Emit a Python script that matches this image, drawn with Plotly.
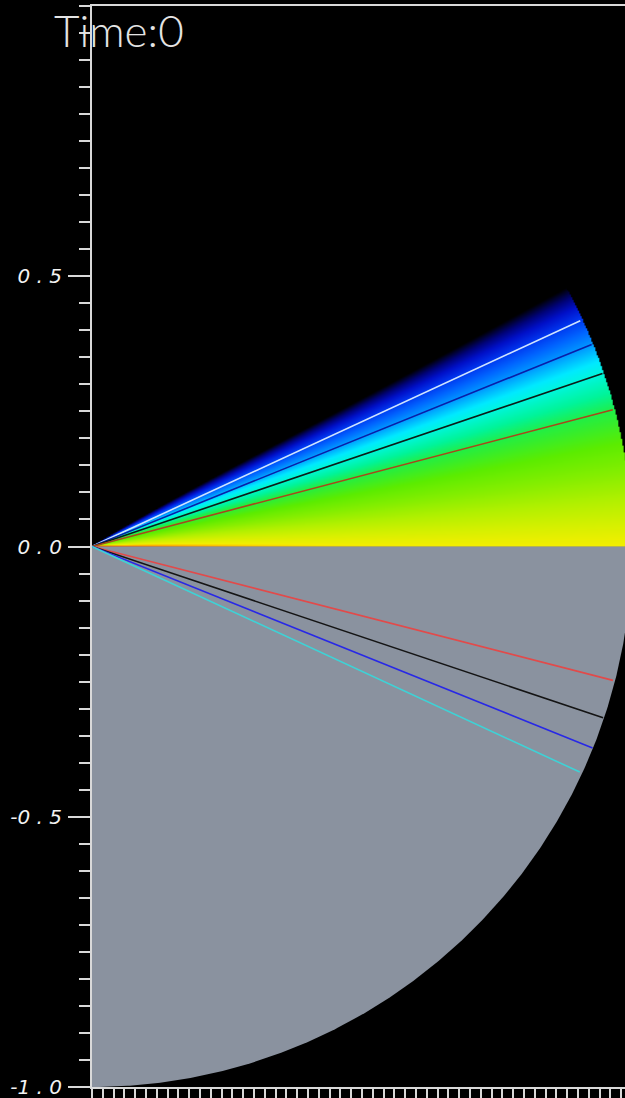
import numpy as np
import plotly.graph_objects as go

# ---- field / geometry values ----
fan_radius = 1.0                      # outer radius of the domain
lower_fill = "#8a929f"                # lower half-disc colour

# colour ramp of the upper fan, keyed by polar angle (degrees)
ramp_angles = [-4.0, -2.5, -1.0, 0.0, 2.5, 5.0, 8.0, 11.0, 14.5, 16.5, 18.7,
               20.0, 22.0, 23.5, 25.0, 26.3, 27.4, 28.6, 30.0]
ramp_colors = ["#ff2a00", "#ff6a00", "#ffb400", "#f4ee00", "#d4f000", "#b2f000",
               "#84ee00", "#5cec00", "#22ee44", "#00f49a", "#00f6dc",
               "#00eaff", "#0096ff", "#0064ff", "#0034ee", "#0010c8", "#00037a",
               "#000000", "#000000"]

# rays in the upper half (angle in degrees, end radius, colour)
upper_ray_angles = [24.8, 22.0, 18.7, 14.7]
upper_ray_radius = [0.996, 0.998, 0.998, 0.997]
upper_ray_colors = ["#cfe4ff", "#0a1ea8", "#0c1c18", "#a8481a"]

# rays in the lower half
lower_ray_angles = [-14.4, -18.5, -21.9, -24.8]
lower_ray_radius = [0.996, 0.998, 0.999, 0.995]
lower_ray_colors = ["#e24a4a", "#141414", "#2828e6", "#3ed2d6"]

y_tick_vals = [-1.0, -0.5, 0.0, 0.5]
y_tick_text = ["-1 . 0", "-0 . 5", "0 . 0", "0 . 5"]
title_text = "Time:0"

# ---- upper fan as a heatmap over the angle ----
step = 0.0025
gx = np.arange(0.0, 0.99, step)
gy = np.arange(0.0, 0.55, step)
X, Y = np.meshgrid(gx, gy)
R = np.hypot(X, Y)
theta = np.degrees(np.arctan2(Y, X))
# slight radial warming close to the apex
z = theta - 3.0 * (1.0 - np.clip(R, 0, 1)) ** 4
z = np.where(R <= fan_radius, z, np.nan)

zmin, zmax = ramp_angles[0], ramp_angles[-1]
colorscale = [[(a - zmin) / (zmax - zmin), c] for a, c in zip(ramp_angles, ramp_colors)]

fig = go.Figure()
fig.add_trace(go.Heatmap(
    x=gx, y=gy, z=z, zmin=zmin, zmax=zmax, colorscale=colorscale,
    showscale=False, hoverinfo="skip", zsmooth="fast",
))

# lower half-disc
arc = np.radians(np.linspace(0.0, -90.0, 361))
fig.add_trace(go.Scatter(
    x=np.concatenate([[0.0], fan_radius * np.cos(arc), [0.0]]),
    y=np.concatenate([[0.0], fan_radius * np.sin(arc), [0.0]]),
    mode="lines", fill="toself", fillcolor=lower_fill,
    line=dict(width=0), hoverinfo="skip", showlegend=False,
))

# rays from the apex
for ang, rad, col in list(zip(upper_ray_angles, upper_ray_radius, upper_ray_colors)) + \
        list(zip(lower_ray_angles, lower_ray_radius, lower_ray_colors)):
    t = np.radians(ang)
    fig.add_trace(go.Scatter(
        x=[0.0, rad * np.cos(t)], y=[0.0, rad * np.sin(t)],
        mode="lines", line=dict(color=col, width=1.6),
        hoverinfo="skip", showlegend=False,
    ))

axis_col = "#d9d9d9"
fig.update_layout(
    width=625, height=1098,
    margin=dict(l=92, r=0, t=6, b=11, pad=0),
    paper_bgcolor="#000000", plot_bgcolor="#000000",
    showlegend=False,
    xaxis=dict(
        range=[0.0, 0.987], showgrid=False, zeroline=False,
        showline=True, linecolor=axis_col, linewidth=2, mirror=True,
        ticks="outside", tick0=0.0, dtick=0.02, ticklen=12, tickwidth=2,
        tickcolor=axis_col, showticklabels=False,
    ),
    yaxis=dict(
        range=[-1.0, 1.0], showgrid=False, zeroline=False,
        showline=True, linecolor=axis_col, linewidth=2,
        ticks="outside", tickvals=y_tick_vals, ticktext=y_tick_text,
        ticklen=22, tickwidth=2, tickcolor=axis_col,
        ticklabelstandoff=2, ticklabeloverflow="allow",
        tickfont=dict(family="DejaVu Sans", size=20, color="#f2f2f2", style="italic"),
        minor=dict(dtick=0.05, tick0=0.0, ticks="outside", ticklen=11,
                   tickwidth=2, tickcolor=axis_col, showgrid=False),
    ),
    annotations=[dict(
        text=title_text, xref="paper", yref="paper", x=-0.075, y=1.0,
        xanchor="left", yanchor="top", showarrow=False, yshift=4,
        font=dict(family="Lato", size=44, color="#e4e4e4", weight=300),
    )],
)

fig.write_html("out.html")
